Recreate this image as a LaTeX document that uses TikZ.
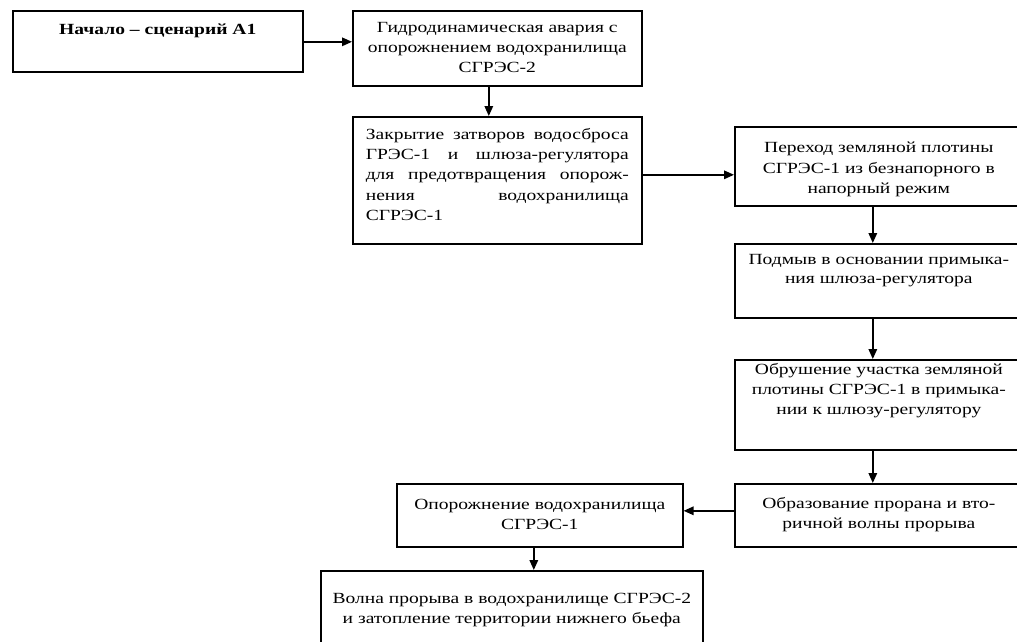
\documentclass[tikz,border=0pt]{standalone}
\usepackage{fontspec}
\setmainfont[FakeStretch=1.26]{Liberation Serif}
\usetikzlibrary{arrows.meta}
\begin{document}
\begin{tikzpicture}[x=1pt,y=-1pt,
  box/.style={draw, line width=1.6pt, inner sep=0pt, anchor=north west},
  txt/.style={inner sep=0pt, anchor=north, align=center, font=\fontsize{15.5}{20.3}\selectfont},
  arr/.style={line width=1.6pt, -{Triangle[length=10pt,width=8.5pt]}}]
\useasboundingbox (0,0) rectangle (1017,641);
\clip (0,0) rectangle (1017,641);
\fill[white] (0,0) rectangle (1017,641);
% boxes
\node[box, minimum width=290pt, minimum height=61pt] (A) at (12,10) {};
\node[box, minimum width=289pt, minimum height=75pt] (B) at (352,10) {};
\node[box, minimum width=289pt, minimum height=127pt] (C) at (352,116) {};
\node[box, minimum width=288pt, minimum height=79pt] (D) at (734,126) {};
\node[box, minimum width=288pt, minimum height=74pt] (E) at (734,243) {};
\node[box, minimum width=288pt, minimum height=90pt] (F) at (734,359) {};
\node[box, minimum width=288pt, minimum height=63pt] (G) at (734,483) {};
\node[box, minimum width=286pt, minimum height=63pt] (H) at (396,483) {};
\node[box, minimum width=382pt, minimum height=95pt] (I) at (320,570) {};
% texts
\node[txt, font=\fontsize{15.5}{20.3}\selectfont\bfseries] (At) at ([yshift=-14pt]A.north) {Начало – сценарий А1};
\node[txt] (Bt) at ([yshift=-12pt]B.north) {Гидродинамическая авария с\\опорожнением водохранилища\\СГРЭС-2};
\node[txt, align=left] (Ct) at ([yshift=-12pt]C.north) {%
\makebox[263pt][s]{Закрытие затворов водосброса}\\
\makebox[263pt][s]{ГРЭС-1 и шлюза-регулятора}\\
\makebox[263pt][s]{для предотвращения опорож-}\\
\makebox[263pt][s]{нения водохранилища}\\
\makebox[263pt][l]{СГРЭС-1}};
\node[txt] (Dt) at ([yshift=-16pt]D.north) {Переход земляной плотины\\СГРЭС-1 из безнапорного в\\напорный режим};
\node[txt, font=\fontsize{15.5}{19.5}\selectfont] (Et) at ([yshift=-11pt]E.north) {Подмыв в основании примыка-\\ния шлюза-регулятора};
\node[txt] (Ft) at ([yshift=-4pt]F.north) {Обрушение участка земляной\\плотины СГРЭС-1 в примыка-\\нии к шлюзу-регулятору};
\node[txt] (Gt) at ([yshift=-14pt]G.north) {Образование прорана и вто-\\ричной волны прорыва};
\node[txt] (Ht) at ([yshift=-16pt]H.north) {Опорожнение водохранилища\\СГРЭС-1};
\node[txt] (It) at ([yshift=-23pt]I.north) {Волна прорыва в водохранилище СГРЭС-2\\и затопление территории нижнего бьефа};
% arrows
\draw[arr] ([yshift=-0.5pt]A.east) -- ([yshift=-0.5pt]A.east -| B.west);
\draw[arr] ([xshift=-8.5pt]B.south) -- ([xshift=-8.5pt]C.north);
\draw[arr] ([yshift=5.5pt]C.east) -- ([yshift=5.5pt]C.east -| D.west);
\draw[arr] ([xshift=-6pt]D.south) -- ([xshift=-6pt]E.north);
\draw[arr] ([xshift=-6pt]E.south) -- ([xshift=-6pt]F.north);
\draw[arr] ([xshift=-6pt]F.south) -- ([xshift=-6pt]G.north);
\draw[arr] ([yshift=4.5pt]G.west) -- ([yshift=4.5pt]H.east);
\draw[arr] ([xshift=-6pt]H.south) -- ([xshift=-6pt]H.south |- I.north);
\end{tikzpicture}
\end{document}
